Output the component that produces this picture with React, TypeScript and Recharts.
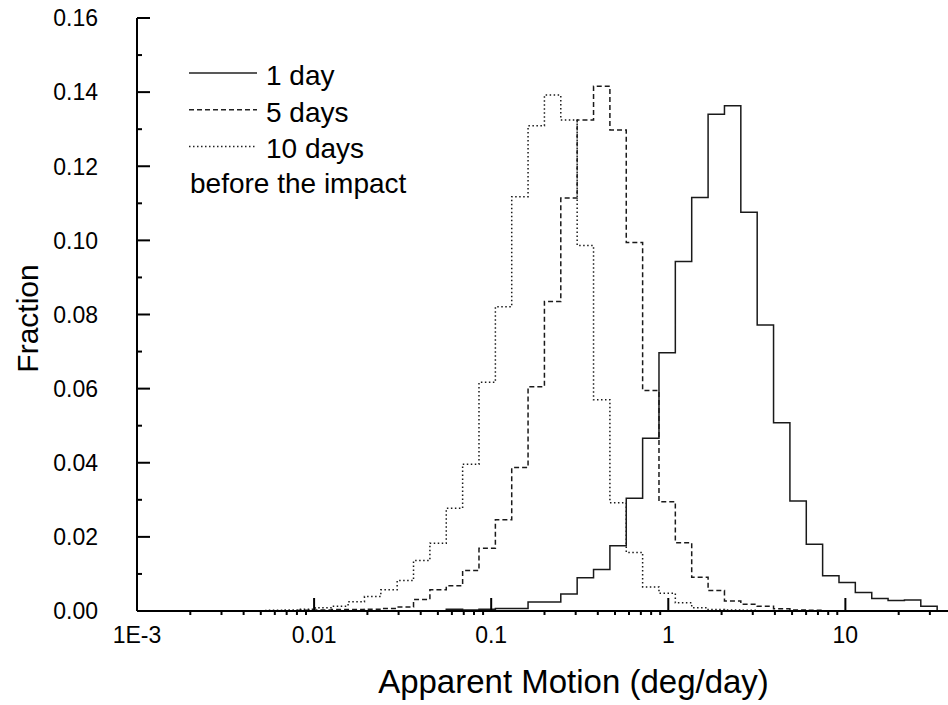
import { LineChart, Line, XAxis, YAxis, Legend } from 'recharts'

// bin edges (deg/day)
const EDGES = [
  0.003509, 0.004341, 0.005369, 0.006643, 0.008218, 0.01017, 0.01258, 0.01556, 0.01925, 0.02381,
  0.02945, 0.03643, 0.04507, 0.05576, 0.06898, 0.08533, 0.1056, 0.1306, 0.1615, 0.1998,
  0.2472, 0.3058, 0.3784, 0.4681, 0.579, 0.7163, 0.8861, 1.096, 1.356, 1.678,
  2.076, 2.568, 3.177, 3.93, 4.862, 6.015, 7.439, 9.204, 11.38, 14.09,
  17.42, 21.55, 26.66, 32.98,
]

const ONE_DAY = [
  0, 0, 0, 0, 0, 0, 0, 0, 0, 0,
  0, 0, 0.0001, 0.0005, 0.0003, 0.0005, 0.0007, 0.0007, 0.0024, 0.0024,
  0.0046, 0.009, 0.0112, 0.0176, 0.0304, 0.0466, 0.0697, 0.0943, 0.1116, 0.134,
  0.1363, 0.1076, 0.0772, 0.0508, 0.0297, 0.018, 0.0095, 0.0077, 0.005, 0.0034,
  0.0028, 0.003, 0.0013,
]

const FIVE_DAYS = [
  0, 0, 0.0001, 0.0001, 0.0002, 0.0003, 0.0004, 0.0004, 0.0005, 0.0007,
  0.0011, 0.0031, 0.0057, 0.0068, 0.0109, 0.0169, 0.0246, 0.0387, 0.0605, 0.0835,
  0.1114, 0.1325, 0.1416, 0.1298, 0.0994, 0.0595, 0.0295, 0.0184, 0.0091, 0.0055,
  0.0027, 0.0018, 0.0013, 0.0006, 0.0003, 0.0002, 0.0001, 0.0001, 0, 0,
  0, 0, 0,
]

const TEN_DAYS = [
  0, 0.0001, 0.0002, 0.0003, 0.0005, 0.0009, 0.0013, 0.0025, 0.0039, 0.0057,
  0.0082, 0.0136, 0.0183, 0.0277, 0.0396, 0.0617, 0.0821, 0.1118, 0.1309, 0.1392,
  0.1325, 0.0986, 0.057, 0.0292, 0.0158, 0.0065, 0.0048, 0.0022, 0.0009, 0.0004,
  0.0003, 0.0002, 0.0001, 0, 0, 0, 0, 0, 0, 0,
  0, 0, 0,
]

const X_MAJOR = [0.001, 0.01, 0.1, 1, 10]
const X_LABELS = ['1E-3', '0.01', '0.1', '1', '10']
const X_MINOR = [0.001, 0.01, 0.1, 1, 10].flatMap(d => [2, 3, 4, 5, 6, 7, 8, 9].map(m => +(m * d).toPrecision(3))).filter(v => v < 40)
const X_TICKS = [...X_MAJOR, ...X_MINOR].sort((a, b) => a - b)

const Y_TICKS = [0, 0.01, 0.02, 0.03, 0.04, 0.05, 0.06, 0.07, 0.08, 0.09, 0.1, 0.11, 0.12, 0.13, 0.14, 0.15, 0.16]
const Y_MAJOR = [0, 0.02, 0.04, 0.06, 0.08, 0.1, 0.12, 0.14, 0.16]

const FONT = '"Liberation Sans", Arial, sans-serif'
const INK = '#000'

function toSteps(values: number[]) {
  const pts = values.map((v, i) => ({ x: EDGES[i], y: v }))
  pts.push({ x: EDGES[values.length], y: 0 })
  return pts
}

const isMajorX = (v: number) => X_MAJOR.includes(v)
const isMajorY = (v: number) => Y_MAJOR.includes(v)

function BottomTick({ x, y, payload }: any) {
  const i = X_MAJOR.indexOf(payload.value)
  return (
    <g>
      <line x1={x} x2={x} y1={y} y2={i >= 0 ? y - 13 : y + 4} stroke={INK} strokeWidth={2} />
      {i >= 0 && (
        <text x={x} y={y + 32} textAnchor="middle" fontSize={23} fill={INK}>{X_LABELS[i]}</text>
      )}
    </g>
  )
}

function TopTick({ x, y, payload }: any) {
  if (!isMajorX(payload.value)) return <g />
  return <line x1={x} x2={x} y1={y} y2={y + 13} stroke={INK} strokeWidth={2} />
}

function LeftTick({ x, y, payload }: any) {
  const major = isMajorY(payload.value)
  return (
    <g>
      <line x1={x} x2={x + (major ? 13 : 5)} y1={y} y2={y} stroke={INK} strokeWidth={2} />
      {major && (
        <text x={x - 39} y={y} dy="0.36em" textAnchor="end" fontSize={23} fill={INK}>{payload.value.toFixed(2)}</text>
      )}
    </g>
  )
}

function RightTick({ x, y, payload }: any) {
  const major = isMajorY(payload.value)
  return <line x1={x} x2={x - (major ? 13 : 5)} y1={y} y2={y} stroke={INK} strokeWidth={2} />
}

const SERIES = [
  { name: '1 day', data: toSteps(ONE_DAY), dash: undefined },
  { name: '5 days', data: toSteps(FIVE_DAYS), dash: '5 3' },
  { name: '10 days', data: toSteps(TEN_DAYS), dash: '1.5 2.5' },
]

function LegendBox() {
  return (
    <svg width={460} height={210} style={{ fontFamily: FONT, overflow: 'visible' }}>
      {SERIES.map((s, i) => (
        <g key={s.name}>
          <line x1={189} x2={257} y1={73 + i * 36.7} y2={73 + i * 36.7} stroke="#222" strokeWidth={1.5} strokeDasharray={s.dash} />
          <text x={266} y={75 + i * 36.7} dy="0.36em" fontSize={28} fill={INK}>{s.name}</text>
        </g>
      ))}
      <text x={190} y={183} dy="0.36em" fontSize={28} fill={INK}>before the impact</text>
    </svg>
  )
}

export default function App() {
  return (
    <div style={{ position: 'fixed', left: 0, top: 0, width: 948, height: 705, overflow: 'hidden', background: '#fff', fontFamily: FONT }}>
      <LineChart width={960} height={705} margin={{ top: 18, right: 8, bottom: 0, left: 0 }}>
        <XAxis
          dataKey="x"
          type="number"
          scale="log"
          domain={[0.001, 40]}
          allowDataOverflow
          ticks={X_TICKS}
          interval={0}
          height={94}
          tickSize={0}
          tickMargin={0}
          tick={<BottomTick />}
          axisLine={{ stroke: INK, strokeWidth: 2 }}
          label={{ value: 'Apparent Motion (deg/day)', position: 'insideBottom', offset: 12, fontSize: 33, fill: INK, dx: 29 }}
        />
        <XAxis
          xAxisId="top"
          orientation="top"
          dataKey="x"
          type="number"
          scale="log"
          domain={[0.001, 40]}
          allowDataOverflow
          ticks={X_TICKS}
          interval={0}
          height={0}
          tickSize={0}
          tickMargin={0}
          tick={<TopTick />}
          axisLine={{ stroke: INK, strokeWidth: 2 }}
        />
        <YAxis
          type="number"
          domain={[0, 0.16]}
          ticks={Y_TICKS}
          interval={0}
          width={137}
          tickSize={0}
          tickMargin={0}
          tick={<LeftTick />}
          axisLine={{ stroke: INK, strokeWidth: 2 }}
          label={{ value: 'Fraction', angle: -90, position: 'insideLeft', offset: 27, dy: 4, fontSize: 30, fill: INK, style: { textAnchor: 'middle' } }}
        />
        <YAxis
          yAxisId="right"
          orientation="right"
          type="number"
          domain={[0, 0.16]}
          ticks={Y_TICKS}
          interval={0}
          width={0}
          tickSize={0}
          tickMargin={0}
          tick={<RightTick />}
          axisLine={{ stroke: INK, strokeWidth: 2 }}
        />
        <Legend
          layout="vertical"
          align="center"
          verticalAlign="middle"
          wrapperStyle={{ left: 0, top: 0, width: 460, height: 210 }}
          content={() => <LegendBox />}
        />
        {SERIES.map(s => (
          <Line
            key={s.name}
            data={s.data}
            dataKey="y"
            name={s.name}
            type="stepAfter"
            stroke="#1a1a1a"
            strokeWidth={1.5}
            strokeDasharray={s.dash}
            dot={false}
            activeDot={false}
            isAnimationActive={false}
          />
        ))}
      </LineChart>
    </div>
  )
}
